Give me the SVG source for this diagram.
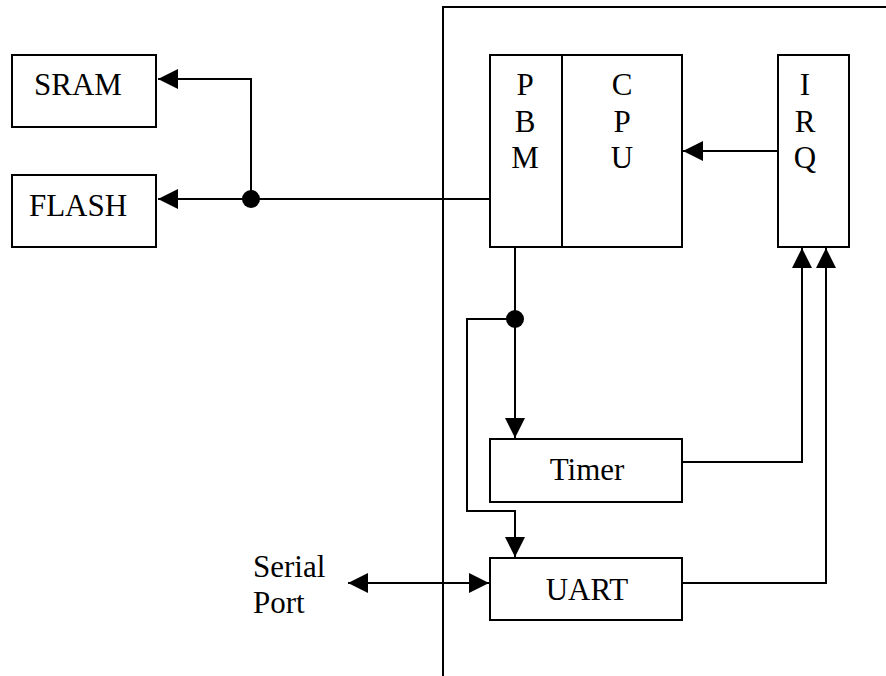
<svg xmlns="http://www.w3.org/2000/svg" width="886" height="676" viewBox="0 0 886 676">
<style>
.box{fill:#fff;stroke:#000;stroke-width:2}
.ln{fill:none;stroke:#000;stroke-width:2}
text{font-family:"Liberation Serif","Times New Roman",serif;font-size:31px;fill:#000}
.c{text-anchor:middle}
</style>
<defs>
<marker id="ah" viewBox="0 0 20 20" refX="20" refY="10" markerWidth="20" markerHeight="20" markerUnits="userSpaceOnUse" orient="auto-start-reverse">
<path d="M0,0 L20,10 L0,20 Z" fill="#000"/>
</marker>
</defs>
<rect width="886" height="676" fill="#fff"/>
<g id="boundary">
<path class="ln" d="M443,676 V7 H886"/>
</g>
<g id="connectors">
<path class="ln" d="M490,199 H158" marker-end="url(#ah)"/>
<path class="ln" d="M251,199 V79 H158" marker-end="url(#ah)"/>
<circle cx="251" cy="199" r="9" fill="#000"/>
<path class="ln" d="M778,151 H683" marker-end="url(#ah)"/>
<path class="ln" d="M515,247 V438" marker-end="url(#ah)"/>
<circle cx="515" cy="319" r="9" fill="#000"/>
<path class="ln" d="M515,319 H467 V511 H515 V557" marker-end="url(#ah)"/>
<path class="ln" d="M682,462 H802 V248" marker-end="url(#ah)"/>
<path class="ln" d="M682,583 H826 V248" marker-end="url(#ah)"/>
<path class="ln" d="M348,583 H489" marker-start="url(#ah)" marker-end="url(#ah)"/>
</g>
<g id="sram">
<rect class="box" x="12" y="55" width="144" height="72"/>
<text x="78" y="95" class="c">SRAM</text>
</g>
<g id="flash">
<rect class="box" x="12" y="175" width="144" height="72"/>
<text x="78" y="216" class="c">FLASH</text>
</g>
<g id="pbm">
<rect class="box" x="490" y="55" width="72" height="192"/>
<text class="c" x="525" y="95">P</text>
<text class="c" x="525" y="132">B</text>
<text class="c" x="525" y="168">M</text>
</g>
<g id="cpu">
<rect class="box" x="562" y="55" width="120" height="192"/>
<text class="c" x="622" y="95">C</text>
<text class="c" x="622" y="132">P</text>
<text class="c" x="622" y="168">U</text>
</g>
<g id="irq">
<rect class="box" x="778" y="55" width="71" height="192"/>
<text class="c" x="805" y="95">I</text>
<text class="c" x="805" y="132">R</text>
<text class="c" x="805" y="168">Q</text>
</g>
<g id="timer">
<rect class="box" x="490" y="439" width="192" height="63"/>
<text class="c" x="587" y="480">Timer</text>
</g>
<g id="uart">
<rect class="box" x="490" y="558" width="192" height="62"/>
<text class="c" x="587" y="600">UART</text>
</g>
<g id="serial">
<text x="253" y="577">Serial</text>
<text x="253" y="613">Port</text>
</g>
</svg>
